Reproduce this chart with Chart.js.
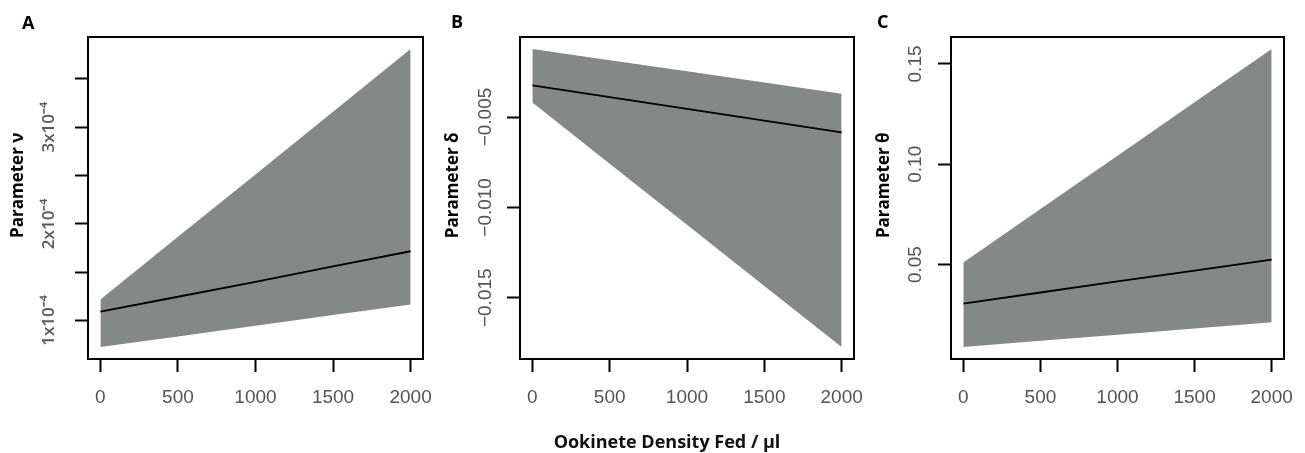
<!DOCTYPE html>
<html><head><meta charset="utf-8">
<script src="https://cdn.jsdelivr.net/npm/chart.js@4.4.1/dist/chart.umd.min.js"></script>
<style>
html,body{margin:0;padding:0;background:#fff;}
body{width:1305px;height:453px;overflow:hidden;position:relative;font-family:'Open Sans',sans-serif;}
.panel{position:absolute;top:0;height:453px;}
.letter{position:absolute;font-weight:700;font-size:18px;line-height:18px;color:#000;}
#xlabel{position:absolute;left:467px;width:400px;top:432px;text-align:center;font-weight:700;font-size:18px;line-height:18px;color:#111;}
</style>
</head><body>
<div class="panel" id="pa" style="left:0;width:440px"><canvas id="ca"></canvas></div>
<div class="panel" id="pb" style="left:430px;width:440px"><canvas id="cb"></canvas></div>
<div class="panel" id="pc" style="left:860px;width:445px"><canvas id="cc"></canvas></div>
<div class="letter" style="left:22px;top:13px">A</div>
<div class="letter" style="left:451px;top:12px">B</div>
<div class="letter" style="left:877px;top:12px">C</div>
<div id="xlabel">Ookinete Density Fed / µl</div>
<script>
// ---- data ----
const densityFed = [0, 500, 1000, 1500, 2000];
const xTickValues = [0, 500, 1000, 1500, 2000];

// Panel A: parameter nu
const nuUpper = [1.217e-4, 1.865e-4, 2.51e-4, 3.16e-4, 3.81e-4];
const nuMean  = [1.09e-4, 1.245e-4, 1.40e-4, 1.56e-4, 1.716e-4];
const nuLower = [0.724e-4, 0.834e-4, 0.945e-4, 1.055e-4, 1.165e-4];
const nuTickValues = [1.0e-4, 1.5e-4, 2.0e-4, 2.5e-4, 3.0e-4, 3.5e-4];
const nuTickLabels = ['1x10\u207B\u2074', '', '2x10\u207B\u2074', '', '3x10\u207B\u2074', ''];

// Panel B: parameter delta
const deltaUpper = [-0.00123, -0.00185, -0.00247, -0.00309, -0.00371];
const deltaMean  = [-0.00325, -0.0039, -0.00455, -0.0052, -0.00585];
const deltaLower = [-0.00419, -0.00758, -0.01096, -0.01435, -0.01773];
const deltaTickValues = [-0.005, -0.010, -0.015];
const deltaTickLabels = ['\u22120.005', '\u22120.010', '\u22120.015'];

// Panel C: parameter theta
const thetaUpper = [0.0511, 0.0777, 0.1043, 0.1309, 0.1575];
const thetaMean  = [0.0306, 0.0361, 0.0416, 0.047, 0.0525];
const thetaLower = [0.0089, 0.012, 0.0151, 0.0182, 0.0213];
const thetaTickValues = [0.05, 0.10, 0.15];
const thetaTickLabels = ['0.05', '0.10', '0.15'];

const BAND = '#838987';
const TICKFONT = {family: "'Liberation Sans', Arial, Helvetica, sans-serif", size: 19};
const LEAD = '\u2002\u2002\u2002';

const boxPlugin = {
  id: 'box',
  afterDraw(chart) {
    const {ctx, chartArea: {left, top, right, bottom}} = chart;
    ctx.save();
    ctx.strokeStyle = '#000';
    ctx.lineWidth = 2;
    ctx.strokeRect(left, top, right - left, bottom - top);
    ctx.restore();
  }
};

function noPad(s) { s.paddingLeft = 0; s.paddingRight = 0; s.paddingTop = 0; s.paddingBottom = 0; }
function pts(ys) { return densityFed.map((x, i) => ({x: x, y: ys[i]})); }

function makePanel(id, cfg) {
  return new Chart(document.getElementById(id), {
    type: 'line',
    data: {
      datasets: [
        {data: pts(cfg.upper), borderColor: 'rgba(0,0,0,0)', borderWidth: 0, pointRadius: 0, backgroundColor: BAND, fill: '+1', tension: 0},
        {data: pts(cfg.lower), borderColor: 'rgba(0,0,0,0)', borderWidth: 0, pointRadius: 0, fill: false, tension: 0},
        {data: pts(cfg.mean), borderColor: '#000', borderWidth: 1.8, pointRadius: 0, fill: false, tension: 0}
      ]
    },
    options: {
      responsive: true, maintainAspectRatio: false, animation: false, devicePixelRatio: 1,
      layout: {padding: {top: 37, right: cfg.padRight, left: 0, bottom: 0}},
      plugins: {legend: {display: false}, tooltip: {enabled: false}, filler: {drawTime: 'beforeDatasetsDraw'}},
      scales: {
        x: {
          type: 'linear', min: -80, max: 2080,
          afterBuildTicks: s => { s.ticks = xTickValues.map(v => ({value: v})); },
          afterFit: s => { s.height = 94; noPad(s); },
          grid: {drawOnChartArea: false, drawTicks: true, tickLength: 13, tickWidth: 2, tickColor: '#000'},
          border: {display: false},
          ticks: {color: '#555', font: TICKFONT, padding: 14, maxRotation: 0, minRotation: 0, autoSkip: false,
                  callback: v => String(v)}
        },
        y: {
          type: 'linear', min: cfg.min, max: cfg.max,
          afterBuildTicks: s => { s.ticks = cfg.tickValues.map(v => ({value: v})); },
          afterFit: s => { s.width = cfg.axisWidth; noPad(s); },
          grid: {drawOnChartArea: false, drawTicks: true, tickLength: 13, tickWidth: 2, tickColor: '#000'},
          border: {display: false},
          ticks: {color: cfg.tickColor || '#555', font: cfg.tickFont || TICKFONT, padding: cfg.tickPad,
                  minRotation: 90, maxRotation: 90, crossAlign: 'center', autoSkip: false,
                  callback: (v, i) => cfg.tickLabels[i]},
          title: {display: true, text: LEAD + cfg.title, color: '#000',
                  font: {family: "'Open Sans', sans-serif", weight: 'bold', size: 17},
                  padding: {top: cfg.titlePad, bottom: 0}}
        }
      }
    },
    plugins: [boxPlugin]
  });
}

makePanel('ca', {upper: nuUpper, mean: nuMean, lower: nuLower, min: 0.6006e-4, max: 3.934e-4,
  tickValues: nuTickValues, tickLabels: nuTickLabels, axisWidth: 88, padRight: 17, tickPad: 0,
  tickFont: {family: "'Open Sans', sans-serif", size: 17, weight: '600'}, tickColor: '#5a5a5a',
  title: 'Parameter \u03BD', titlePad: 8});
makePanel('cb', {upper: deltaUpper, mean: deltaMean, lower: deltaLower, min: -0.01839, max: -0.00057,
  tickValues: deltaTickValues, tickLabels: deltaTickLabels, axisWidth: 90, padRight: 16, tickPad: -8,
  title: 'Parameter \u03B4', titlePad: 13});
makePanel('cc', {upper: thetaUpper, mean: thetaMean, lower: thetaLower, min: 0.00296, max: 0.16344,
  tickValues: thetaTickValues, tickLabels: thetaTickLabels, axisWidth: 91, padRight: 21, tickPad: 4,
  title: 'Parameter \u03B8', titlePad: 14});
</script>
</body></html>
